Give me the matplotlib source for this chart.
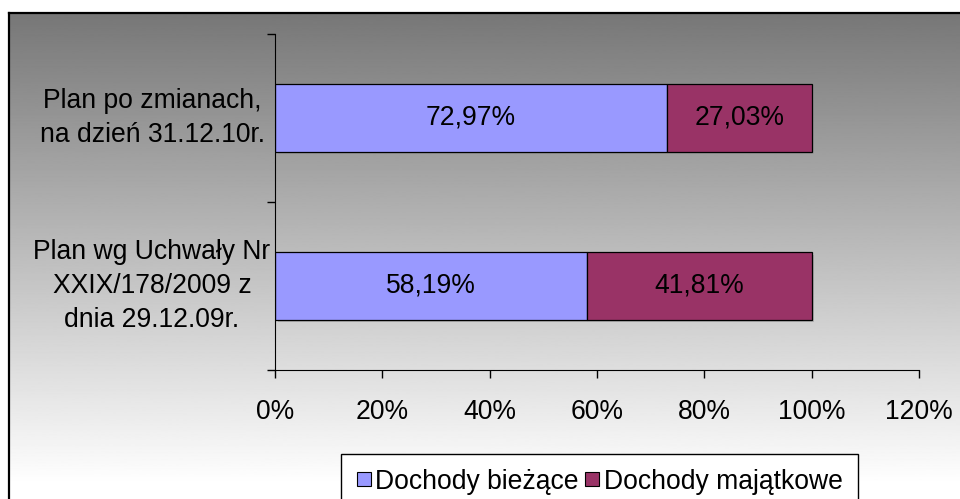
import matplotlib.pyplot as plt
import matplotlib.transforms as mtransforms
from matplotlib.lines import Line2D
import matplotlib.patheffects as pe
import numpy as np

plt.rcParams['font.family'] = ['Liberation Sans', 'DejaVu Sans']

categories = ['Plan wg Uchwały Nr\nXXIX/178/2009 z\ndnia 29.12.09r.',
              'Plan po zmianach,\nna dzień 31.12.10r.']
biezace = [58.19, 72.97]
majatkowe = [41.81, 27.03]
series_names = ['Dochody bieżące', 'Dochody majątkowe']
colors = ['#9999FF', '#993366']
xticks = [0, 20, 40, 60, 80, 100, 120]

W, H = 960, 499
fig = plt.figure(figsize=(W / 100, H / 100), dpi=100)
fs = 19.1

# chart area with vertical gradient
bg = fig.add_axes([9 / W, 0, 1 - 9 / W, (H - 13) / H], zorder=0)
grad = np.linspace(0, 1, 500)
vals = 119 / 255 + (1 - 119 / 255) * np.clip(grad / 0.97, 0, 1)
bg.imshow(vals[:, None], cmap='gray', vmin=0, vmax=1, aspect='auto',
          extent=[0, 1, 0, 1], origin='upper')
bg.set_xticks([])
bg.set_yticks([])
for s in ['right', 'bottom']:
    bg.spines[s].set_visible(False)
for s in ['left', 'top']:
    bg.spines[s].set_linewidth(1.6)
    bg.spines[s].set_color('black')

ax = fig.add_axes([275 / W, 1 - 370 / H, (919 - 275) / W, (370 - 34) / H], zorder=1)
ax.patch.set_alpha(0)

y = np.arange(len(categories))
shadow = [pe.SimplePatchShadow(offset=(2, -2), shadow_rgbFace='#909090', alpha=0.5), pe.Normal()]
b1 = ax.barh(y, [v / 100 for v in biezace], height=0.4, color=colors[0],
             edgecolor='black', linewidth=0.9, path_effects=shadow)
b2 = ax.barh(y, [v / 100 for v in majatkowe], left=[v / 100 for v in biezace], height=0.4,
             color=colors[1], edgecolor='black', linewidth=0.9, path_effects=shadow)

for i in range(len(categories)):
    ax.text(biezace[i] / 200, y[i], f"{biezace[i]:.2f}%".replace('.', ','),
            ha='center', va='center', fontsize=fs)
    ax.text((biezace[i] + majatkowe[i] / 2) / 100, y[i], f"{majatkowe[i]:.2f}%".replace('.', ','),
            ha='center', va='center', fontsize=fs)

ax.set_xlim(0, 1.2)
ax.set_ylim(-0.5, len(categories) - 0.5)
ax.set_xticks([t / 100 for t in xticks])
ax.set_xticklabels([f"{t}%" for t in xticks], fontsize=fs)
ax.set_yticks(np.arange(-0.5, len(categories), 1.0))
ax.set_yticklabels([])
ax.tick_params(axis='x', length=6, width=1, pad=15)
ax.tick_params(axis='y', length=6, width=1)
ax.spines['top'].set_visible(False)
ax.spines['right'].set_visible(False)

trans = mtransforms.blended_transform_factory(fig.transFigure, ax.transData)
for i, lab in enumerate(categories):
    ax.text(152 / W, y[i], lab, transform=trans, ha='center', va='center',
            fontsize=fs, linespacing=1.4, multialignment='center')

handles = [Line2D([], [], marker='s', linestyle='none', markersize=10,
                  markerfacecolor=c, markeredgecolor='black', markeredgewidth=0.8)
           for c in colors]
leg = fig.legend(handles, series_names, loc='upper left', bbox_to_anchor=(341 / W, 1 - 454 / H),
                 ncol=2, fontsize=fs, frameon=True, fancybox=False, framealpha=1,
                 edgecolor='black', facecolor='white', handlelength=0.6, handletextpad=0.15,
                 columnspacing=0.2, borderpad=0.55, borderaxespad=0)
leg.get_frame().set_linewidth(1)
leg.set_zorder(5)

fig.savefig('out.png', dpi=100)
